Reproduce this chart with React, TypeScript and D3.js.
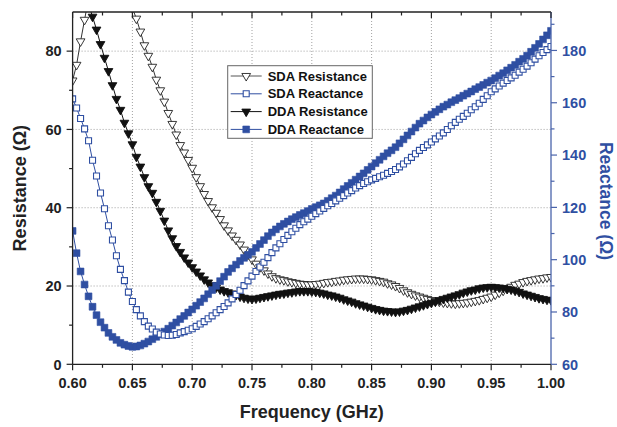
import React from 'react';
import * as d3 from 'd3';

// Frequency sampling grid (GHz): 0.60 .. 1.00, 121 samples
const frequencies: number[] = d3.range(121).map((i) => 0.6 + i / 300);

// Left axis (Ω)
const sdaResistance: number[] = [
  72.5, 76.5, 82.5, 88, 93.5, 97.5, 101, 103, 104.5, 105,
  104.8, 103.5, 101, 98.5, 95, 91, 88.3, 85, 81.5, 78.8,
  76, 72.7, 70, 67.1, 64.2, 61.4, 58.7, 56, 54.1, 52.2,
  50.2, 47.8, 45.5, 43.5, 41.7, 40.1, 38.7, 37.1, 35.5, 34.2,
  32.9, 31.8, 30.6, 29.3, 28, 26.8, 25.7, 24.8, 24, 23.2,
  22.5, 22, 21.7, 21.5, 21.2, 21, 20.8, 20.6, 20.5, 20.4,
  20.4, 20.5, 20.6, 20.8, 21, 21.1, 21.3, 21.4, 21.6, 21.7,
  21.8, 21.9, 21.9, 21.9, 21.8, 21.7, 21.5, 21.3, 21.1, 20.7,
  20.4, 20, 19.5, 18.9, 18.4, 18, 17.6, 17.3, 17, 16.7,
  16.4, 16.2, 16, 15.8, 15.7, 15.6, 15.5, 15.6, 15.7, 15.8,
  16, 16.2, 16.4, 16.7, 17, 17.3, 17.8, 18.3, 18.8, 19.3,
  19.8, 20.3, 20.6, 21, 21.3, 21.5, 21.7, 21.9, 22, 22.2,
  22.3,
];

const ddaResistance: number[] = [
  125, 112, 102, 95.5, 92, 88.8, 85.5, 81.8, 78.3, 74.9,
  71.3, 67.8, 65, 61.7, 59, 56.2, 53, 50.5, 47.8, 45.5,
  43.8, 41.5, 39.2, 36.7, 34.2, 32.2, 30.2, 28.7, 27.3, 26,
  24.8, 23.7, 22.7, 21.7, 20.9, 20.2, 19.6, 19.1, 18.7, 18.4,
  18.1, 17.7, 17.3, 17, 16.8, 16.7, 16.8, 17, 17.2, 17.4,
  17.6, 17.8, 18, 18.1, 18.3, 18.4, 18.6, 18.7, 18.7, 18.7,
  18.6, 18.5, 18.3, 18.1, 17.8, 17.6, 17.3, 17, 16.6, 16.3,
  16, 15.6, 15.3, 15, 14.7, 14.4, 14.1, 13.9, 13.7, 13.6,
  13.5, 13.4, 13.5, 13.7, 13.9, 14.2, 14.5, 14.8, 15.1, 15.4,
  15.7, 16, 16.4, 16.7, 17, 17.3, 17.6, 17.9, 18.3, 18.6,
  18.9, 19.1, 19.4, 19.6, 19.7, 19.8, 19.7, 19.6, 19.5, 19.3,
  19.1, 18.8, 18.5, 18.1, 17.8, 17.5, 17.2, 16.9, 16.7, 16.5,
  16.4,
];

// Right axis (Ω)
const sdaReactance: number[] = [
  161.5, 158, 154, 150, 145.5, 138, 132, 125.5, 119.5, 113,
  107.5, 101.5, 96.3, 92, 87.6, 84, 80.9, 78.5, 76.3, 74.6,
  73.5, 72.3, 71.6, 71.2, 71, 71.1, 71.4, 72, 72.5, 73,
  73.6, 74.5, 75.4, 76.3, 77.4, 78.5, 79.7, 80.9, 82.1, 83.5,
  85, 86.7, 88.3, 90.1, 91.9, 93.7, 95.5, 97.2, 99, 100.8,
  102.7, 104.5, 106.1, 107.7, 109.3, 110.7, 112, 113.4, 114.5, 115.5,
  116.6, 117.6, 118.6, 119.6, 120.6, 121.5, 122.5, 123.5, 124.5, 125.5,
  126.4, 127.4, 128.3, 129.1, 129.8, 130.5, 131.1, 131.7, 132.3, 133,
  133.7, 134.5, 135.5, 136.6, 137.8, 139.1, 140.5, 141.8, 142.9, 143.9,
  145, 146.2, 147.3, 148.5, 149.8, 151.2, 152.5, 153.7, 154.8, 156,
  157.3, 158.5, 159.8, 161.3, 162.7, 164.2, 165.3, 166.4, 167.5, 168.5,
  169.5, 170.5, 171.7, 172.8, 174, 175.3, 176.7, 178, 179.2, 180.3,
  181.5,
];

const ddaReactance: number[] = [
  111, 102.5, 95.5, 90.5, 86, 82, 78.8, 76.1, 74, 72,
  70.5, 69.3, 68.2, 67.5, 67, 66.7, 66.8, 67.2, 67.9, 68.7,
  69.6, 70.5, 71.5, 72.5, 73.6, 74.8, 76, 77.3, 78.5, 79.8,
  81, 82.4, 83.8, 85.2, 86.8, 88.4, 90, 91.8, 93.5, 95.3,
  96.7, 98.1, 99.5, 100.7, 101.8, 103, 104.5, 106, 107.5, 109,
  110.4, 111.6, 112.7, 113.7, 114.6, 115.5, 116.3, 117.1, 117.8, 118.6,
  119.4, 120.1, 120.8, 121.5, 122.5, 123.5, 124.5, 125.7, 127, 128.2,
  129.4, 130.6, 131.8, 133, 134.3, 135.6, 136.9, 138.2, 139.5, 140.7,
  141.8, 143, 144.5, 146, 147.5, 149, 150.5, 152, 153.2, 154.4,
  155.5, 156.5, 157.5, 158.5, 159.3, 160.2, 161, 161.8, 162.7, 163.5,
  164.3, 165.2, 166, 166.8, 167.7, 168.5, 169.4, 170.4, 171.3, 172.4,
  173.4, 174.5, 175.7, 176.8, 178, 179.5, 181, 182.5, 184.2, 185.8,
  187.5,
];

const xTicks = [0.6, 0.65, 0.7, 0.75, 0.8, 0.85, 0.9, 0.95, 1.0];
const xMinor = [0.625, 0.675, 0.725, 0.775, 0.825, 0.875, 0.925, 0.975];
const yLeftTicks = [0, 20, 40, 60, 80];
const yLeftMinor = [10, 30, 50, 70];
const yRightTicks = [60, 80, 100, 120, 140, 160, 180];
const yRightMinor = [70, 90, 110, 130, 150, 170, 190];
const legendLabels = ['SDA Resistance', 'SDA Reactance', 'DDA Resistance', 'DDA Reactance'];

const BLUE = '#2f4fa2';
const AXIS_BLUE = '#4a64ab';
const FONT = 'Arial, "Liberation Sans", Helvetica, sans-serif';

const W = 617;
const H = 427;
const PL = 72.6;
const PR = 551;
const PT = 12;
const PB = 364.3;

type Kind = 'openTri' | 'openSq' | 'fillTri' | 'fillSq';

function Marker({ kind, x, y }: { kind: Kind; x: number; y: number }) {
  if (kind === 'openTri' || kind === 'fillTri') {
    const p = d3.symbol(d3.symbolTriangle, 33)();
    return (
      <path
        d={p || ''}
        transform={`translate(${x},${y}) rotate(180)`}
        fill={kind === 'fillTri' ? '#111' : '#fff'}
        stroke={kind === 'fillTri' ? '#111' : '#222'}
        strokeWidth={0.9}
      />
    );
  }
  const p = d3.symbol(d3.symbolSquare, kind === 'fillSq' ? 46 : 36)();
  return (
    <path
      d={p || ''}
      transform={`translate(${x},${y})`}
      fill={kind === 'fillSq' ? BLUE : '#fff'}
      stroke={BLUE}
      strokeWidth={kind === 'fillSq' ? 0.6 : 1.1}
    />
  );
}

export default function App() {
  const x = d3.scaleLinear().domain([0.6, 1.0]).range([PL, PR]);
  const yL = d3.scaleLinear().domain([0, 90]).range([PB, PT]);
  const yR = d3.scaleLinear().domain([60, 194.7]).range([PB, PT]);

  const series = [
    { name: legendLabels[0], vals: sdaResistance, y: yL, kind: 'openTri' as Kind, line: '#333' },
    { name: legendLabels[2], vals: ddaResistance, y: yL, kind: 'fillTri' as Kind, line: '#111' },
    { name: legendLabels[3], vals: ddaReactance, y: yR, kind: 'fillSq' as Kind, line: BLUE },
    { name: legendLabels[1], vals: sdaReactance, y: yR, kind: 'openSq' as Kind, line: BLUE },
  ];

  const legendItems = [
    { label: legendLabels[0], kind: 'openTri' as Kind, line: '#555' },
    { label: legendLabels[1], kind: 'openSq' as Kind, line: BLUE },
    { label: legendLabels[2], kind: 'fillTri' as Kind, line: '#111' },
    { label: legendLabels[3], kind: 'fillSq' as Kind, line: BLUE },
  ];

  return (
    <svg
      width={W}
      height={H}
      style={{ position: 'absolute', left: 0, top: 0, display: 'block', background: '#fff' }}
      fontFamily={FONT}
    >
      <defs>
        <clipPath id="plotClip">
          <rect x={PL} y={PT} width={PR - PL} height={PB - PT} />
        </clipPath>
      </defs>
      <rect x={0} y={0} width={W} height={H} fill="#fff" />

      {/* grid */}
      {xTicks.slice(1, -1).map((t) => (
        <line key={'gx' + t} x1={x(t)} x2={x(t)} y1={PT} y2={PB} stroke="#8a8a8a" strokeWidth={0.8} strokeDasharray="1,2" />
      ))}
      {yLeftTicks.slice(1).map((t) => (
        <line key={'gy' + t} x1={PL} x2={PR} y1={yL(t)} y2={yL(t)} stroke="#8a8a8a" strokeWidth={0.8} strokeDasharray="1,2" />
      ))}

      {/* series */}
      <g clipPath="url(#plotClip)">
        {series.map((s) => {
          const gen = d3
            .line<number>()
            .x((_, i) => x(frequencies[i]))
            .y((v) => s.y(v));
          return (
            <g key={s.name}>
              <path d={gen(s.vals) || ''} fill="none" stroke={s.line} strokeWidth={1} />
              {s.vals.map((v, i) => (
                <Marker key={i} kind={s.kind} x={x(frequencies[i])} y={s.y(v)} />
              ))}
            </g>
          );
        })}
      </g>

      {/* axes frame */}
      <line x1={PL} x2={PR} y1={PT} y2={PT} stroke="#222" strokeWidth={1.3} />
      <line x1={PL} x2={PR} y1={PB} y2={PB} stroke="#222" strokeWidth={1.3} />
      <line x1={PL} x2={PL} y1={PT} y2={PB} stroke="#222" strokeWidth={1.3} />
      <line x1={PR} x2={PR} y1={PT} y2={PB} stroke={AXIS_BLUE} strokeWidth={1.3} />

      {/* x ticks */}
      {xTicks.map((t) => (
        <g key={'xt' + t}>
          <line x1={x(t)} x2={x(t)} y1={PB} y2={PB + 6} stroke="#222" strokeWidth={1.2} />
          <line x1={x(t)} x2={x(t)} y1={PT} y2={PT + 6} stroke="#222" strokeWidth={1.2} />
          <text x={x(t)} y={388} textAnchor="middle" fontSize={14.5} fontWeight="bold" fill="#222">
            {d3.format('.2f')(t)}
          </text>
        </g>
      ))}
      {xMinor.map((t) => (
        <g key={'xm' + t}>
          <line x1={x(t)} x2={x(t)} y1={PB} y2={PB + 3.5} stroke="#222" strokeWidth={1.2} />
          <line x1={x(t)} x2={x(t)} y1={PT} y2={PT + 3.5} stroke="#222" strokeWidth={1.2} />
        </g>
      ))}

      {/* left ticks */}
      {yLeftTicks.map((t) => (
        <g key={'yl' + t}>
          <line x1={PL - 6} x2={PL} y1={yL(t)} y2={yL(t)} stroke="#222" strokeWidth={1.2} />
          <text x={PL - 11} y={yL(t)} dy="0.36em" textAnchor="end" fontSize={14.5} fontWeight="bold" fill="#222">
            {t}
          </text>
        </g>
      ))}
      {yLeftMinor.map((t) => (
        <line key={'ylm' + t} x1={PL - 3.5} x2={PL} y1={yL(t)} y2={yL(t)} stroke="#222" strokeWidth={1.2} />
      ))}

      {/* right ticks */}
      {yRightTicks.map((t) => (
        <g key={'yr' + t}>
          <line x1={PR} x2={PR + 6} y1={yR(t)} y2={yR(t)} stroke={AXIS_BLUE} strokeWidth={1.2} />
          <text x={PR + 11} y={yR(t)} dy="0.36em" textAnchor="start" fontSize={14.5} fontWeight="bold" fill={BLUE}>
            {t}
          </text>
        </g>
      ))}
      {yRightMinor.map((t) => (
        <line key={'yrm' + t} x1={PR} x2={PR + 3.5} y1={yR(t)} y2={yR(t)} stroke={AXIS_BLUE} strokeWidth={1.2} />
      ))}

      {/* axis titles */}
      <text x={(PL + PR) / 2} y={418} textAnchor="middle" fontSize={18} fontWeight="bold" fill="#222">
        Frequency (GHz)
      </text>
      <text transform={`translate(25.5,${(PT + PB) / 2}) rotate(-90)`} textAnchor="middle" fontSize={18} fontWeight="bold" fill="#222">
        Resistance (Ω)
      </text>
      <text transform={`translate(600,201) rotate(90)`} textAnchor="middle" fontSize={17.5} fontWeight="bold" fill={BLUE}>
        Reactance (Ω)
      </text>

      {/* legend */}
      <g>
        <rect x={227.7} y={65.7} width={144.6} height={72.6} fill="#fff" stroke="#666" strokeWidth={1} />
        {legendItems.map((it, i) => {
          const ly = 76 + i * 17.8;
          return (
            <g key={it.label}>
              <line x1={230.7} x2={261.7} y1={ly} y2={ly} stroke={it.line} strokeWidth={1} />
              <Marker kind={it.kind} x={246.2} y={ly} />
              <text x={267.7} y={ly} dy="0.36em" fontSize={13} fontWeight="bold" fill="#111">
                {it.label}
              </text>
            </g>
          );
        })}
      </g>
    </svg>
  );
}
